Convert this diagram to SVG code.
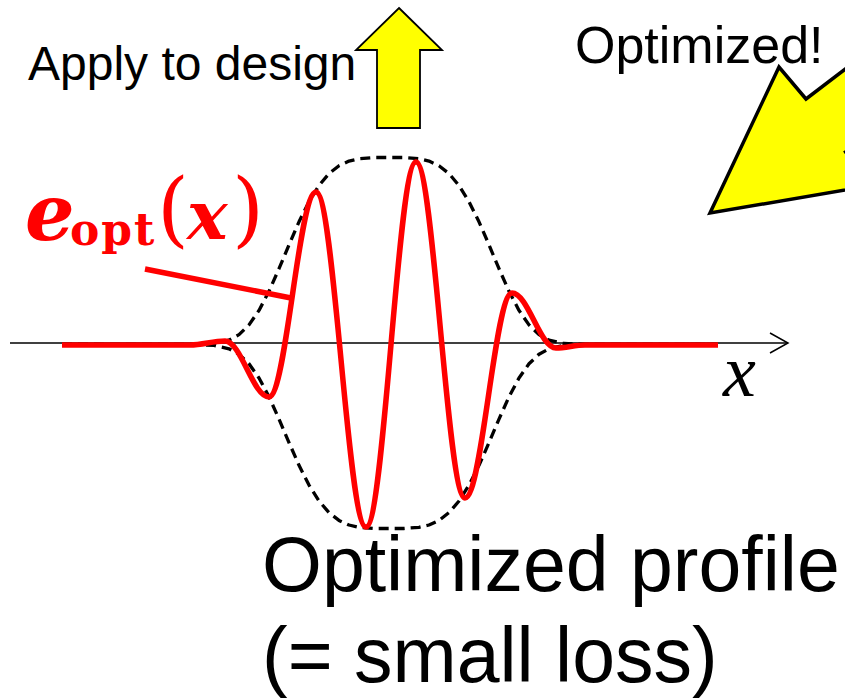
<svg xmlns="http://www.w3.org/2000/svg" width="845" height="698" viewBox="0 0 845 698">
<style>
.lbl{font-family:"Liberation Sans",Arial,sans-serif;fill:#000}
.env{fill:none;stroke:#000;stroke-width:3.3;stroke-dasharray:10 6;stroke-linejoin:round}
.red{fill:none;stroke:#ff0000;stroke-width:5.5;stroke-linecap:butt;stroke-linejoin:round}
.math{font-family:"DejaVu Serif",serif;fill:#ff0000;font-weight:bold}
.yarrow{fill:#ffff00;stroke:#000;stroke-linejoin:miter}
</style>
<rect width="845" height="698" fill="#fff"/>
<g id="apply-arrow">
<polygon class="yarrow" stroke-width="1.8" points="399,8 442,50 420,50 420,128 377,128 377,50 356,50"/>
<text class="lbl" x="28" y="80" font-size="48">Apply to design</text>
</g>
<g id="optimized-arrow">
<polygon class="yarrow" stroke-width="3.5" points="710,213 779,67 806,99 965,-22 1005,31 845.5,152 869,186"/>
<text class="lbl" x="575" y="63" font-size="52">Optimized!</text>
</g>
<g id="axis">
<line x1="10" y1="343" x2="788" y2="343" stroke="#000" stroke-width="1.5"/>
<polyline points="770,333 788,343 770,353" fill="none" stroke="#000" stroke-width="1.5"/>
<text x="723" y="396" font-family="Liberation Serif,serif" font-style="italic" font-size="74" fill="#000">x</text>
</g>
<g id="envelope">
<polyline class="env" points="62,344.5 194,344.4 214,343.5 229,340.1 239,334.6 249,324.9 259,310.4 269,291.3 279,268.7 289,244.8 299,221.8 309,201.7 319,185.5 329,173.6 339,165.7 349,161.1 359,158.7 374,157.5 389,157.5 404,157.5 419,158.7 429,161.1 439,165.7 449,173.6 459,185.5 469,201.7 479,221.8 489,244.8 499,268.7 509,291.3 519,310.4 529,324.9 539,334.6 549,340.1 564,343.5 584,344.4 718,344.5"/>
<polyline class="env" points="62,344.5 194,344.6 214,345.4 229,348.8 239,354.3 249,363.8 259,378 269,396.8 279,419.1 289,442.6 299,465.3 309,485.1 319,501 329,512.6 339,520.4 349,525 359,527.3 374,528.5 389,528.5 404,528.5 419,527.3 429,525 439,520.4 449,512.6 459,501 469,485.1 479,465.3 489,442.6 499,419.1 509,396.8 519,378 529,363.8 539,354.3 549,348.8 564,345.4 584,344.6 718,344.5"/>
</g>
<g id="eopt-wave">
<path class="red" d="M62,345 L190,345 C202.7,345 212.3,341 225,341 C241,341 253,397 269,397 C286.1,397 298.9,192 316,192 C334.2,192 347.8,527 366,527 C384.2,527 397.8,162 416,162 C433.8,162 447.2,498 465,498 C482.1,498 494.9,293 512,293 C528,293 540,348 556,348 C566,348 575,345 585,345 L718,345"/>
<line class="red" x1="145" y1="269" x2="291" y2="298" stroke-width="4.5"/>
</g>
<g id="eopt-label">
<text class="math"><tspan x="25" y="240" font-size="78" font-style="italic">e</tspan><tspan x="70" y="245" font-size="44" letter-spacing="2">opt</tspan><tspan x="157" y="237" font-size="82" font-weight="normal">(</tspan><tspan x="187" y="239" font-size="68" font-style="italic">x</tspan><tspan x="232" y="237" font-size="82" font-weight="normal">)</tspan></text>
</g>
<g id="caption">
<text class="lbl" x="262" y="591" font-size="77">Optimized profile</text>
<text class="lbl" x="262" y="682" font-size="77">(= small loss)</text>
</g>
</svg>
